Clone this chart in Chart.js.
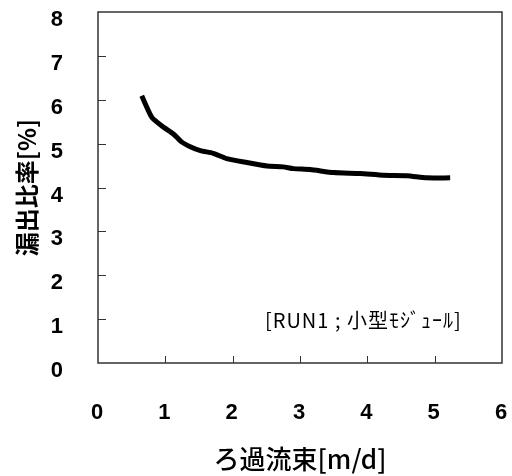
<!DOCTYPE html>
<html>
<head>
    <meta charset="utf-8">
    <title>漏出比率</title>
    <script src="https://cdn.jsdelivr.net/npm/chart.js"></script>
    <style>
        html, body {
            margin: 0;
            padding: 0;
            background-color: #ffffff;
        }
        #wrap {
            width: 512px;
            height: 476px;
        }
    </style>
</head>

<body>
    <div id="wrap">
        <canvas id="leakChart" width="512" height="476"></canvas>
    </div>

    <script>
    // ろ過流束 [m/d]
    const flux = [0.65, 0.80, 0.97, 1.12, 1.24, 1.37, 1.52, 1.71, 1.91, 2.21, 2.51, 2.75, 2.90, 3.15, 3.50, 3.89, 4.24, 4.59, 4.88, 5.23];
    // 漏出比率 [%]
    const leakRate = [6.09, 5.60, 5.38, 5.22, 5.04, 4.93, 4.84, 4.78, 4.66, 4.57, 4.49, 4.47, 4.43, 4.41, 4.34, 4.32, 4.28, 4.27, 4.22, 4.22];

    const xTicks = [0, 1, 2, 3, 4, 5, 6];
    const yTicks = [0, 1, 2, 3, 4, 5, 6, 7, 8];

    const xTitle = 'ろ過流束[m/d]';
    const yTitle = '漏出比率[%]';
    const note = '[RUN1 ; 小型ﾓｼﾞｭｰﾙ]';

    const points = flux.map((x, i) => ({ x: x, y: leakRate[i] }));

    // frame, inward tick marks and the run note
    const framePlugin = {
        id: 'frame',
        afterDraw(chart) {
            const ctx = chart.ctx;
            const area = chart.chartArea;
            const xs = chart.scales.x;
            const ys = chart.scales.y;
            ctx.save();
            ctx.strokeStyle = '#333';
            ctx.lineWidth = 1.5;
            ctx.strokeRect(area.left, area.top, area.right - area.left, area.bottom - area.top);

            ctx.lineWidth = 1;
            ctx.beginPath();
            xTicks.slice(1, -1).forEach(v => {
                const px = Math.round(xs.getPixelForValue(v)) + 0.5;
                ctx.moveTo(px, area.bottom);
                ctx.lineTo(px, area.bottom - 7);
            });
            yTicks.slice(1, -1).forEach(v => {
                const py = Math.round(ys.getPixelForValue(v)) + 0.5;
                ctx.moveTo(area.left, py);
                ctx.lineTo(area.left + 8, py);
            });
            ctx.stroke();

            ctx.fillStyle = '#000';
            ctx.font = '20px "Noto Sans CJK JP"';
            ctx.letterSpacing = '1px';
            ctx.textAlign = 'left';
            ctx.textBaseline = 'middle';
            ctx.fillText(note, xs.getPixelForValue(2.48), ys.getPixelForValue(0.98));
            ctx.restore();
        }
    };

    const leakChart = new Chart(document.getElementById('leakChart'), {
        type: 'scatter',
        data: {
            datasets: [{
                data: points,
                showLine: true,
                borderColor: '#000',
                borderWidth: 5,
                pointRadius: 0,
                tension: 0.2,
                borderCapStyle: 'butt'
            }]
        },
        options: {
            responsive: false,
            animation: false,
            events: [],
            layout: {
                padding: { left: 0, top: 12, right: 10, bottom: 0 }
            },
            plugins: {
                legend: { display: false },
                tooltip: { enabled: false }
            },
            scales: {
                x: {
                    type: 'linear',
                    min: 0,
                    max: 6,
                    afterBuildTicks: s => { s.ticks = xTicks.map(v => ({ value: v })); },
                    afterFit: s => {
                        s.height = 113;
                        s.paddingLeft = 0;
                        s.paddingRight = 0;
                    },
                    grid: { display: false },
                    border: { display: false },
                    ticks: {
                        color: '#000',
                        padding: 29,
                        labelOffset: -1,
                        font: { family: '"Liberation Sans", Arial', size: 22, weight: 'bold' }
                    },
                    title: {
                        display: true,
                        text: xTitle,
                        color: '#000',
                        padding: { top: 0, bottom: 1 },
                        font: { family: '"Noto Sans CJK JP"', size: 26, weight: 500 }
                    }
                },
                y: {
                    type: 'linear',
                    min: 0,
                    max: 8,
                    afterBuildTicks: s => { s.ticks = yTicks.map(v => ({ value: v })); },
                    afterFit: s => {
                        s.width = 98;
                        s.paddingTop = 0;
                        s.paddingBottom = 0;
                    },
                    grid: { display: false },
                    border: { display: false },
                    ticks: {
                        color: '#000',
                        padding: 27,
                        labelOffset: 8,
                        font: { family: '"Liberation Sans", Arial', size: 22, weight: 'bold' }
                    },
                    title: {
                        display: true,
                        text: yTitle,
                        color: '#000',
                        padding: { top: 12, bottom: 0 },
                        font: { family: '"Noto Sans CJK JP"', size: 24, weight: 'bold' }
                    }
                }
            }
        },
        plugins: [framePlugin]
    });
    </script>
</body>
</html>
